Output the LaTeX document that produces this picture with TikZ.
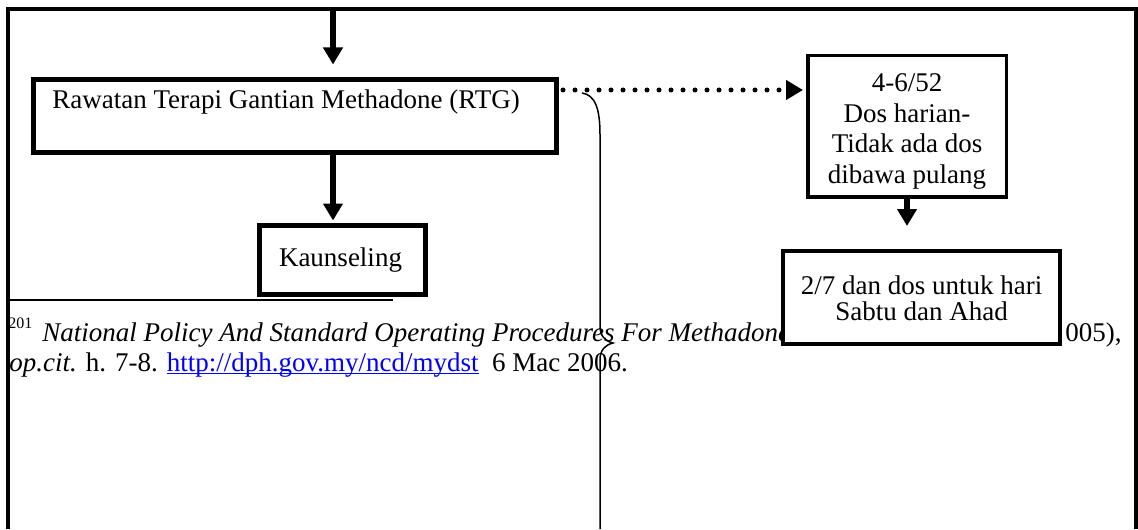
\documentclass[tikz,border=0pt]{standalone}
\usepackage{fontspec}
\setmainfont{Liberation Serif}
\usepackage{tikz}
\usetikzlibrary{arrows.meta,calc,positioning}

\begin{document}
\begin{tikzpicture}[x=0.5pt, y=-0.5pt, >={Triangle[length=8.5pt,width=9.5pt]},
    font=\fontsize{13.5}{15.25}\selectfont,
    box/.style={draw, fill=white, inner sep=0pt, line width=2.5pt},
    txt/.style={inner sep=0pt, anchor=base},
    flow/.style={->, line width=3pt},
    dots/.style={->, line width=2.5pt, line cap=round, dash pattern=on 0pt off 6pt},
    brace/.style={line width=0.75pt}]
    \useasboundingbox (0,0) rectangle (1138,529);

    % frame and footnote rule
    \draw[line width=2pt] (8,529) -- (8,9) -- (1136,9) -- (1136,529);
    \draw[line width=1pt] (8,300) -- (393,300);

    % footnote
    \node[txt, anchor=base west, font=\fontsize{8}{9}\selectfont] (fnmark) at (8,328) {201};
    \node[txt, anchor=base west] (fnone) at (42,341) {\itshape National Policy And Standard Operating Procedures For Methadone};
    \node[txt, anchor=base west] (fnyear) at (1065,341) {005),};
    \node[txt, anchor=base west] (fntwo) at (9,371) {\textit{op.cit.} h. 7-8. {\color{blue}\underline{\smash{http://dph.gov.my/ncd/mydst}}}\ \ 6 Mac 2006.};

    % boxes
    \node[box, minimum width=261.5pt, minimum height=36.5pt] (rtg)   at (295,116)   {};
    \node[box, minimum width=83pt, minimum height=34.5pt]    (kaun)  at (342.5,260) {};
    \node[box, line width=1.75pt, minimum width=99.25pt, minimum height=70.75pt] (dose) at (907,126.5) {};
    \node[box, line width=2pt, minimum width=138.5pt, minimum height=46.5pt]     (daily) at (921.5,297.5) {};

    \node[txt] (rtgtext)   at (286,109)   {Rawatan Terapi Gantian Methadone (RTG)};
    \node[txt] (kauntext)  at (340.5,266) {Kaunseling};
    \node[txt] (dosetext)  at (907,92)    {\begin{tabular}[t]{@{}c@{}}4-6/52\\Dos harian-\\Tidak ada dos\\dibawa pulang\end{tabular}};
    \node[txt] (dailytext) at (921.5,294) {\def\arraystretch{0.86}\begin{tabular}[t]{@{}c@{}}2/7 dan dos untuk hari\\Sabtu dan Ahad\end{tabular}};

    % arrows
    \coordinate (topin) at (333,9);
    \coordinate (dotstart) at (563,90);
    \draw[flow, shorten >=6.25pt] (topin) -- (topin |- rtg.north);
    \draw[flow, shorten >=1.25pt] (topin |- rtg.south) -- (topin |- kaun.north);
    \draw[dots, shorten >=1.5pt] (dotstart) -- (dotstart -| dose.west);
    \draw[flow, shorten >=11.5pt] (dose.south) -- (dose.south |- daily.north);

    % brace
    \draw[brace] (582,93) .. controls (595,95) and (600,108) .. (600,135) -- (600,326)
        .. controls (600,336) and (605,341) .. (613,343)
        .. controls (605,345) and (600,350) .. (600,360) -- (600,529);
\end{tikzpicture}
\end{document}
